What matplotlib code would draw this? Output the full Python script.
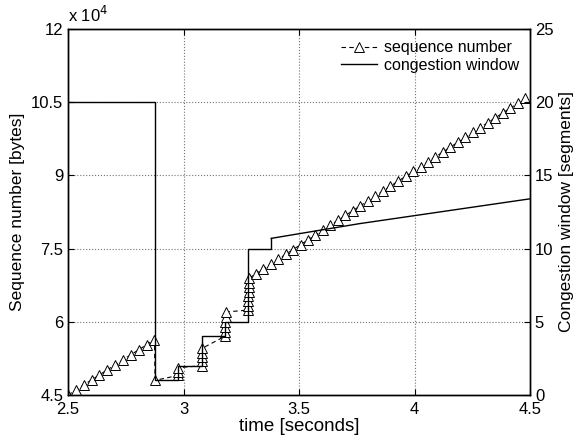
import matplotlib
matplotlib.use("Agg")
import matplotlib.pyplot as plt

plt.rcParams['font.family'] = ['Liberation Sans', 'DejaVu Sans']

# sequence number trace (time [s], bytes)
seq_t = [2.500, 2.534, 2.568, 2.602, 2.636, 2.670, 2.704, 2.738, 2.772, 2.806, 2.840, 2.874,
         2.877,
         2.976, 2.977, 2.978,
         3.078, 3.079, 3.080, 3.081, 3.082,
         3.178, 3.179, 3.180, 3.181, 3.182, 3.183,
         3.278, 3.279, 3.280, 3.281, 3.282, 3.283, 3.284, 3.285,
         3.312, 3.344, 3.377, 3.409, 3.442, 3.474, 3.507, 3.539, 3.571, 3.604, 3.636, 3.669,
         3.701, 3.734, 3.766, 3.799, 3.831, 3.863, 3.896, 3.928, 3.961, 3.993, 4.026, 4.058,
         4.090, 4.123, 4.155, 4.188, 4.220, 4.253, 4.285, 4.317, 4.350, 4.382, 4.415, 4.447,
         4.480]
seq_b = [45000, 46030, 47060, 48090, 49120, 50150, 51180, 52210, 53240, 54270, 55300, 56330,
         48000,
         49000, 49800, 50600,
         51000, 51900, 52800, 53700, 54600,
         57000, 58000, 59000, 60000, 61000, 62000,
         62400, 63300, 64200, 65200, 66100, 67100, 68000, 69000,
         69800, 70800, 71800, 72800, 73800, 74800, 75800, 76800, 77800, 78800, 79800, 80800,
         81800, 82800, 83800, 84800, 85800, 86800, 87800, 88800, 89800, 90800, 91800, 92800,
         93800, 94800, 95800, 96800, 97800, 98800, 99800, 100800, 101800, 102800, 103800, 104800,
         105800]

# congestion window (time [s], segments)
cwnd_t = [2.5, 2.877, 2.977, 3.079, 3.18, 3.28, 3.38, 3.76, 4.5]
cwnd_v = [20, 1, 2, 4, 5, 10, 10.7, 11.7, 13.4]

xticks = [2.5, 3, 3.5, 4, 4.5]
yticks_left = [45000, 60000, 75000, 90000, 105000, 120000]
ylabels_left = ['4.5', '6', '7.5', '9', '10.5', '12']
yticks_right = [0, 5, 10, 15, 20, 25]

fig = plt.figure(figsize=(5.73, 4.4), dpi=100)
ax = fig.add_axes([0.1187, 0.1023, 0.8063, 0.8318])
ax2 = ax.twinx()

l1, = ax.plot(seq_t, seq_b, linestyle='--', color='k', linewidth=0.8, marker='^',
              markersize=7, markerfacecolor='white', markeredgecolor='k', markeredgewidth=0.7,
              dashes=(4, 3))
ax2.step(cwnd_t[:7], cwnd_v[:7], where='post', color='k', linewidth=1.0)
l2, = ax2.plot(cwnd_t[6:], cwnd_v[6:], color='k', linewidth=1.0)

ax.set_xlim(2.5, 4.5)
ax.set_ylim(45000, 120000)
ax2.set_ylim(0, 25)
ax.set_xticks(xticks)
ax.set_xticklabels([('%g' % v) for v in xticks])
ax.set_yticks(yticks_left)
ax.set_yticklabels(ylabels_left)
ax2.set_yticks(yticks_right)

for a in (ax, ax2):
    a.tick_params(direction='in', labelsize=12, length=4, width=0.8)
    for s in a.spines.values():
        s.set_linewidth(1.0)
ax.tick_params(top=True)
ax.tick_params(axis='x', pad=5)

ax.grid(True, linestyle=':', color='0.45', linewidth=0.8)

ax.set_xlabel('time [seconds]', fontsize=13.5, labelpad=1)
ax.set_ylabel('Sequence number [bytes]', fontsize=12.5, labelpad=4)
ax2.set_ylabel('Congestion window [segments]', fontsize=12.5, labelpad=4)
ax.text(0.0, 1.012, 'x 10$^4$', transform=ax.transAxes, fontsize=12, ha='left', va='bottom')

leg = ax.legend([l1, l2], ['sequence number', 'congestion window'], loc='upper right',
                frameon=False, fontsize=11.5, handlelength=2.3, handletextpad=0.4,
                borderaxespad=0.3, labelspacing=0.15)

fig.savefig('out.png', dpi=100)
